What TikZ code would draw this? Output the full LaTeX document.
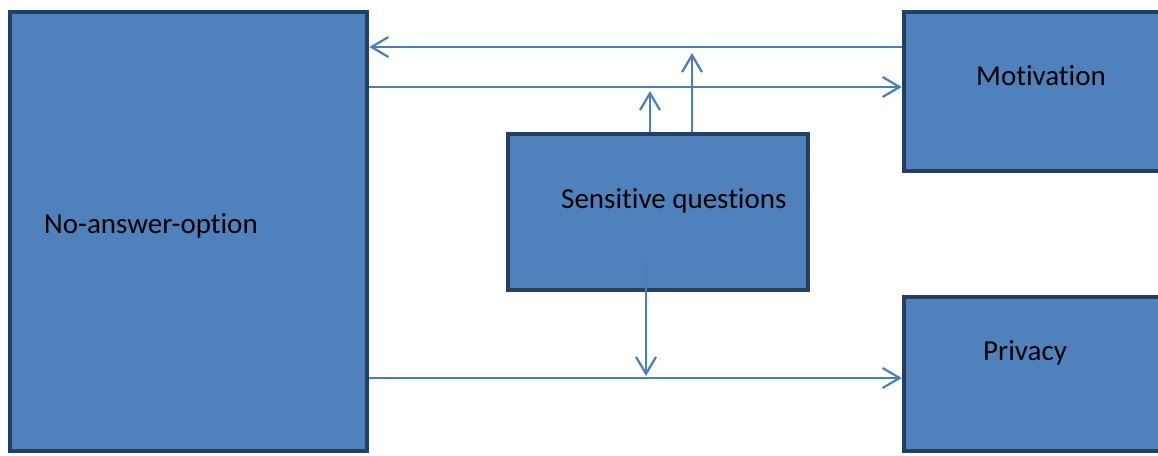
\documentclass[tikz,border=0pt]{standalone}
\usepackage{fontspec}
\setmainfont[RawFeature={-liga}]{Carlito}
\usetikzlibrary{arrows.meta}
\definecolor{boxfill}{HTML}{4F81BD}
\definecolor{boxline}{HTML}{243F60}
\definecolor{arrcol}{HTML}{4A7EBB}
\begin{document}
\begin{tikzpicture}[x=1pt,y=-1pt,
  blk/.style={draw=boxline,fill=boxfill,line width=4.5pt,rectangle,inner sep=0pt},
  lbl/.style={font=\fontsize{29}{32}\selectfont,text=black,inner sep=0pt,anchor=base west},
  arr/.style={draw=arrcol,line width=2.2pt,-{Straight Barb[length=17pt,width=20pt,line width=2.2pt]}}]
\clip (0,0) rectangle (1158,455);
\fill[white] (0,0) rectangle (1158,455);
% boxes (centre line of border)
\node[blk,minimum width=357pt,minimum height=439pt] (noa) at (188.5,231.5) {};
\node[blk,minimum width=271pt,minimum height=159pt] (mot) at (1039.5,91.5) {};
\node[blk,minimum width=271pt,minimum height=154pt] (pri) at (1039.5,374) {};
\node[blk,minimum width=300pt,minimum height=156pt] (sen) at (658,212) {};
% texts
\node[lbl] (tnoa) at (44,233) {No-answer-option};
\node[lbl] (tmot) at (976,85) {Motivation};
\node[lbl] (tpri) at (983,360) {Privacy};
\node[lbl] (tsen) at (561,208) {Sensitive questions};
% free ends
\coordinate (u1) at (650,91);
\coordinate (u2) at (692,53);
\coordinate (d0) at (646,257);
\coordinate (d1) at (646,376);
% connectors
\draw[arr] (mot.west |- {(0,47)}) -- (noa.east |- {(0,47)});
\draw[arr] (noa.east |- {(0,87)}) -- (mot.west |- {(0,87)});
\draw[arr] (noa.east |- {(0,378)}) -- (pri.west |- {(0,378)});
\draw[arr] (sen.north -| u1) -- (u1);
\draw[arr] (sen.north -| u2) -- (u2);
\draw[arr] (d0) -- (d1);
\end{tikzpicture}
\end{document}
